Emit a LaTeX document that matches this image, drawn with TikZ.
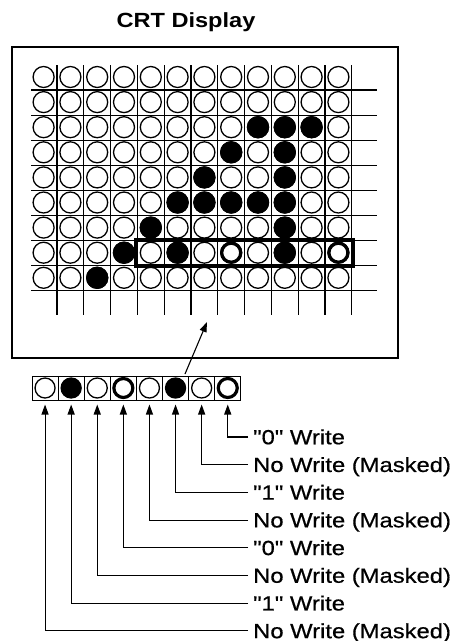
\documentclass[tikz,border=0pt]{standalone}
\usepackage{fontspec}
\usetikzlibrary{arrows.meta}
\newfontfamily\labfont[FakeStretch=1.16,FakeBold=0.6]{Liberation Sans}
\newfontfamily\titlefont[FakeStretch=1.15]{Liberation Sans Bold}
\tikzset{
  x=1pt, y=-1pt,
  gridline/.style={line width=1.1pt},
  dot/.style={circle, draw, line width=1.3pt, minimum size=21pt, inner sep=0pt},
  fulldot/.style={dot, fill=black},
  ringdot/.style={circle, draw, line width=3.2pt, minimum size=19pt, inner sep=0pt},
  cell/.style={draw, line width=1pt, minimum width=26.1pt, minimum height=24pt, inner sep=0pt},
  lab/.style={anchor=west, inner xsep=5pt, inner ysep=0pt, text height=14.5pt, text depth=0pt,
              font=\labfont\fontsize{20.5}{21}\selectfont},
  arr/.style={line width=1.1pt, -{Triangle[width=7pt,length=10pt]}},
}
\begin{document}
\begin{tikzpicture}
\useasboundingbox (0,0) rectangle (455,641);
% title
\node[font=\titlefont\fontsize{20.5}{21}\selectfont, anchor=base] (title) at (186,27.5) {CRT Display};
% frame
\draw[line width=1.9pt] (12,47) rectangle (398,358);
% grid lines
\foreach \c in {1,...,12}
  \draw[gridline] ({43.6+26.8*(\c-1)+13.4},65) -- ({43.6+26.8*(\c-1)+13.4},315);
\foreach \r in {1,...,9}
  \draw[gridline] (31,{77.5+25.1*(\r-1)+12.5}) -- (377,{77.5+25.1*(\r-1)+12.5});
% circles
\foreach \r in {1,...,9}
  \foreach \c in {1,...,12}
    \node[dot, fill=white] (g-\r-\c) at ({43.6+26.8*(\c-1)},{77+25.1*(\r-1)}) {};
\foreach \r/\c in {3/9,3/10,3/11,4/8,4/10,5/7,5/10,6/6,6/7,6/8,6/9,6/10,7/5,7/10,8/4,8/6,8/10,9/3}
  \node[fulldot] at (g-\r-\c) {};
\foreach \c in {8,12}
  \node[ringdot, fill=white] at (g-8-\c) {};
% highlight box
\draw[line width=3.6pt] (136,240) rectangle (353,266);
% strip
\foreach \i in {1,...,8}
  \node[cell] (s\i) at ({45.05+26.1*(\i-1)},388) {};
\foreach \i in {1,3,5,7}
  \node[dot, minimum size=20pt] at (s\i) {};
\foreach \i in {2,6}
  \node[fulldot, minimum size=20pt] at (s\i) {};
\foreach \i in {4,8}
  \node[ringdot] at (s\i) {};
% arrow to display
\coordinate (a1) at (185,374);
\coordinate (a2) at (207,322);
\draw[arr] (a1) -- (a2);
% labels
\node[lab] (l1) at (248,437) {"0" Write};
\node[lab] (l2) at (248,464.7) {No Write (Masked)};
\node[lab] (l3) at (248,492.4) {"1" Write};
\node[lab] (l4) at (248,520.1) {No Write (Masked)};
\node[lab] (l5) at (248,547.8) {"0" Write};
\node[lab] (l6) at (248,575.5) {No Write (Masked)};
\node[lab] (l7) at (248,603.2) {"1" Write};
\node[lab] (l8) at (248,630.9) {No Write (Masked)};
\foreach \l/\s in {1/8,2/7,3/6,4/5,5/4,6/3,7/2,8/1}
  \draw[arr, shorten >=4pt] (l\l.west) -| (s\s.south);
\end{tikzpicture}
\end{document}
